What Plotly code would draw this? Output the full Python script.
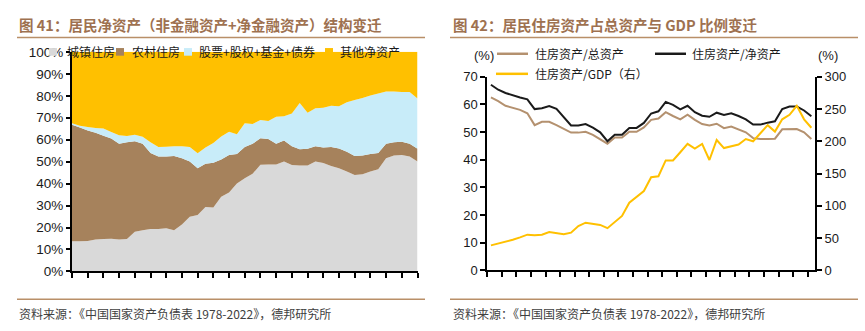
import plotly.graph_objects as go

# ---------------- data ----------------
years = list(range(1978, 2023))

# Figure 41: stacked shares of household net assets (%)
urban_housing = [13.8, 13.8, 13.9, 14.6, 14.8, 14.9, 14.6, 14.8, 18.1, 18.8,
                 19.3, 19.3, 19.7, 18.8, 21.4, 24.9, 25.7, 29.4, 29.1, 34.0,
                 36.0, 40.0, 42.5, 44.5, 48.6, 48.7, 48.7, 50.1, 48.5, 48.3,
                 48.3, 50.1, 49.4, 48.0, 47.0, 45.5, 43.9, 44.3, 45.5, 46.5,
                 51.6, 52.8, 53.0, 52.3, 50.1]
rural_housing = [53.0, 51.7, 50.3, 48.6, 47.0, 45.6, 43.5, 44.0, 41.2, 39.3,
                 34.7, 33.0, 32.6, 33.8, 30.2, 25.2, 21.3, 19.7, 20.4, 17.0,
                 17.0, 13.5, 14.2, 13.6, 12.1, 11.6, 9.4, 9.5, 8.5, 7.4,
                 7.6, 6.9, 7.0, 8.7, 9.0, 9.0, 8.7, 8.5, 8.0, 7.5,
                 6.5, 6.0, 6.1, 5.8, 5.8]
securities = [0.7, 0.8, 1.6, 2.1, 3.3, 3.0, 3.9, 2.9, 2.9, 3.2,
              4.8, 4.4, 4.5, 4.4, 5.4, 6.6, 6.8, 7.3, 9.0, 10.5,
              10.6, 9.0, 10.8, 9.0, 8.3, 8.2, 12.3, 11.1, 14.9, 21.0,
              16.4, 17.3, 18.1, 18.8, 19.2, 22.5, 25.5, 26.2, 26.6, 27.0,
              23.9, 23.2, 22.6, 23.6, 22.9]
other_net = [32.5, 33.7, 34.2, 34.7, 34.9, 36.5, 38.0, 38.3, 37.8, 38.7,
             41.2, 43.3, 43.2, 43.0, 43.0, 43.3, 46.2, 43.6, 41.5, 38.5,
             36.4, 37.5, 32.5, 32.9, 31.0, 31.5, 29.6, 29.3, 28.1, 23.3,
             27.7, 25.7, 25.5, 24.5, 24.8, 23.0, 21.9, 21.0, 19.9, 19.0,
             18.0, 18.0, 18.3, 18.3, 21.2]

# Figure 42: housing assets ratios (%)
housing_to_total = [62.5, 61.2, 59.5, 58.8, 58.0, 56.8, 52.5, 53.7, 53.7, 52.5,
                    51.0, 49.8, 49.8, 50.1, 49.0, 47.5, 45.8, 48.0, 48.0, 50.1,
                    50.1, 51.7, 54.4, 54.9, 57.2, 55.8, 54.6, 56.3, 54.4, 52.9,
                    52.4, 53.0, 51.4, 52.0, 51.0, 49.9, 47.8, 47.5, 47.5, 47.6,
                    51.0, 51.0, 51.1, 49.9, 47.5]
housing_to_net = [67.1, 65.3, 64.1, 63.2, 62.5, 61.8, 58.3, 58.6, 59.4, 58.4,
                  55.3, 52.4, 52.4, 52.9, 51.6, 49.9, 46.7, 49.0, 49.0, 51.5,
                  51.5, 53.3, 56.7, 57.5, 60.9, 59.8, 58.2, 59.5, 57.2, 55.9,
                  55.5, 57.0, 56.2, 56.8, 55.8, 54.6, 52.7, 52.7, 53.4, 53.9,
                  58.3, 59.2, 59.2, 57.8, 55.7]
housing_to_gdp = [38.9, 41.5, 43.9, 47.5, 51.3, 55.5, 54.5, 55.3, 59.5, 58.0,
                  56.0, 58.5, 68.8, 74.0, 72.5, 70.5, 65.5, 75.0, 84.5, 105.0,
                  114.0, 123.0, 144.4, 145.9, 170.4, 170.4, 183.0, 196.0, 188.7, 196.0,
                  171.0, 202.0, 189.5, 192.5, 195.0, 203.5, 200.0, 212.5, 225.0, 215.0,
                  234.0, 241.0, 255.0, 234.0, 221.0]

label_years = [1978, 1983, 1988, 1993, 1998, 2003, 2008, 2013, 2018]
left_minor_ticks = list(range(1978, 2023, 2))
right_minor_ticks = [y - 0.5 for y in range(1978, 2023, 2)]

left_names = ["城镇住房", "农村住房", "股票+股权+基金+债券", "其他净资产"]
left_colors = ["#D9D9D9", "#A6825C", "#C8ECF9", "#FFC000"]
right_names = ["住房资产/总资产", "住房资产/净资产", "住房资产/GDP（右）"]
right_colors = ["#B4916F", "#1A1A1A", "#FFC000"]

title_left = "图 41：居民净资产（非金融资产+净金融资产）结构变迁"
title_right = "图 42：居民住房资产占总资产与 GDP 比例变迁"
source_text = "资料来源：《中国国家资产负债表 1978-2022》，德邦研究所"

# ---------------- figure ----------------
W, H = 865, 331
CJK = "Noto Sans CJK SC"
NUM = "Liberation Sans, Arial, sans-serif"


def px(x):
    return x / W


def py(y):
    return 1 - y / H


fig = go.Figure()

for name, vals, col in zip(left_names, [urban_housing, rural_housing, securities, other_net], left_colors):
    fig.add_trace(go.Scatter(x=years, y=vals, name=name, stackgroup="one", mode="none",
                             fillcolor=col, line=dict(width=0), showlegend=False,
                             xaxis="x", yaxis="y", hoverinfo="x+y+name"))

fig.add_trace(go.Scatter(x=years, y=housing_to_total, name=right_names[0], mode="lines",
                         line=dict(color=right_colors[0], width=2), showlegend=False,
                         xaxis="x2", yaxis="y2"))
fig.add_trace(go.Scatter(x=years, y=housing_to_net, name=right_names[1], mode="lines",
                         line=dict(color=right_colors[1], width=2), showlegend=False,
                         xaxis="x2", yaxis="y2"))
fig.add_trace(go.Scatter(x=years, y=housing_to_gdp, name=right_names[2], mode="lines",
                         line=dict(color=right_colors[2], width=2), showlegend=False,
                         xaxis="x2", yaxis="y3"))

axis_common = dict(showgrid=False, zeroline=False, showline=True, linecolor="#000",
                   linewidth=2, ticks="outside", tickcolor="#000", tickwidth=1.5)

left_dom_x = [px(72), px(417.5)]
right_dom_x = [px(487.3), px(815)]

fig.update_layout(
    width=W, height=H, margin=dict(l=0, r=0, t=0, b=0),
    paper_bgcolor="white", plot_bgcolor="white", showlegend=False,
    xaxis=dict(domain=left_dom_x, range=[1978, 2022], anchor="y", tickmode="array",
               tickvals=left_minor_ticks, ticktext=[""] * len(left_minor_ticks),
               ticklen=5, **axis_common),
    xaxis3=dict(overlaying="x", anchor="y", domain=left_dom_x, range=[1978, 2022],
                tickmode="array", tickvals=label_years, ticktext=[str(v) for v in label_years],
                ticks="", showline=False, showgrid=False, zeroline=False,
                tickfont=dict(family=NUM, size=14, color="#1a1a1a"), ticklabelstandoff=6),
    yaxis=dict(domain=[py(277), py(47)], range=[0, 100], anchor="x", dtick=10,
               ticksuffix="%", ticklen=4,
               tickfont=dict(family=NUM, size=13.5, color="#1a1a1a"), **axis_common),
    xaxis2=dict(domain=right_dom_x, range=[1977.5, 2022.5], anchor="y2", tickmode="array",
                tickvals=right_minor_ticks, ticktext=[""] * len(right_minor_ticks),
                ticklen=5, **axis_common),
    xaxis4=dict(overlaying="x2", anchor="y2", domain=right_dom_x, range=[1977.5, 2022.5],
                tickmode="array", tickvals=label_years, ticktext=[str(v) for v in label_years],
                ticks="", showline=False, showgrid=False, zeroline=False,
                tickfont=dict(family=NUM, size=13, color="#1a1a1a"), ticklabelstandoff=6),
    yaxis2=dict(domain=[py(276), py(73)], range=[0, 70], anchor="x2", dtick=10, ticklen=5,
                tickfont=dict(family=NUM, size=13, color="#1a1a1a"), **axis_common),
    yaxis3=dict(overlaying="y2", side="right", anchor="x2", range=[0, 300], dtick=50,
                ticklen=5, tickfont=dict(family=NUM, size=13, color="#1a1a1a"), **axis_common),
)

shapes = []
annotations = []
sep_color = "#B98F68"
for x0, x1 in [(17, 425), (450, 858)]:
    for yline in (32, 306):
        shapes.append(dict(type="line", xref="paper", yref="paper", x0=px(x0), x1=px(x1),
                           y0=py(yline), y1=py(yline), line=dict(color=sep_color, width=1.5)))

title_font = dict(family=CJK, size=14.5, color="#9E7150")
annotations.append(dict(text="<b>" + title_left + "</b>", x=px(17), y=py(18), xref="paper", yref="paper",
                        xanchor="left", yanchor="middle", showarrow=False, font=title_font))
annotations.append(dict(text="<b>" + title_right + "</b>", x=px(451), y=py(18), xref="paper", yref="paper",
                        xanchor="left", yanchor="middle", showarrow=False, font=title_font))

src_font = dict(family=CJK, size=12, color="#404040")
for xs in (17, 451):
    annotations.append(dict(text=source_text, x=px(xs), y=py(321.5), xref="paper", yref="paper",
                            xanchor="left", yanchor="middle", showarrow=False, font=src_font))

# left legend (square swatches)
leg_font = dict(family=CJK, size=12, color="#1a1a1a")
sq_x = [49, 116, 184, 325]
txt_x = [65, 130, 197, 338]
for name, col, sx, tx in zip(left_names, left_colors, sq_x, txt_x):
    shapes.append(dict(type="rect", xref="paper", yref="paper", x0=px(sx), x1=px(sx + 8),
                       y0=py(51), y1=py(43), fillcolor=col, line=dict(width=0), layer="above"))
    annotations.append(dict(text=name, x=px(tx), y=py(47), xref="paper", yref="paper",
                            xanchor="left", yanchor="middle", showarrow=False, font=leg_font))

# right legend (line swatches)
line_pos = [(497, 528, 49), (655, 686, 49), (496, 528, 70)]
text_pos = [(533, 49), (690, 49), (533, 70)]
for name, col, (lx0, lx1, ly), (tx, ty) in zip(right_names, right_colors, line_pos, text_pos):
    shapes.append(dict(type="line", xref="paper", yref="paper", x0=px(lx0), x1=px(lx1),
                       y0=py(ly), y1=py(ly), line=dict(color=col, width=2.5)))
    annotations.append(dict(text=name, x=px(tx), y=py(ty), xref="paper", yref="paper",
                            xanchor="left", yanchor="middle", showarrow=False, font=leg_font))

unit_font = dict(family=NUM, size=13, color="#1a1a1a")
for ux in (483.5, 828):
    annotations.append(dict(text="(%)", x=px(ux), y=py(51), xref="paper", yref="paper",
                            xanchor="center", yanchor="middle", showarrow=False, font=unit_font))

fig.update_layout(shapes=shapes, annotations=annotations)
fig.write_html("out.html")
